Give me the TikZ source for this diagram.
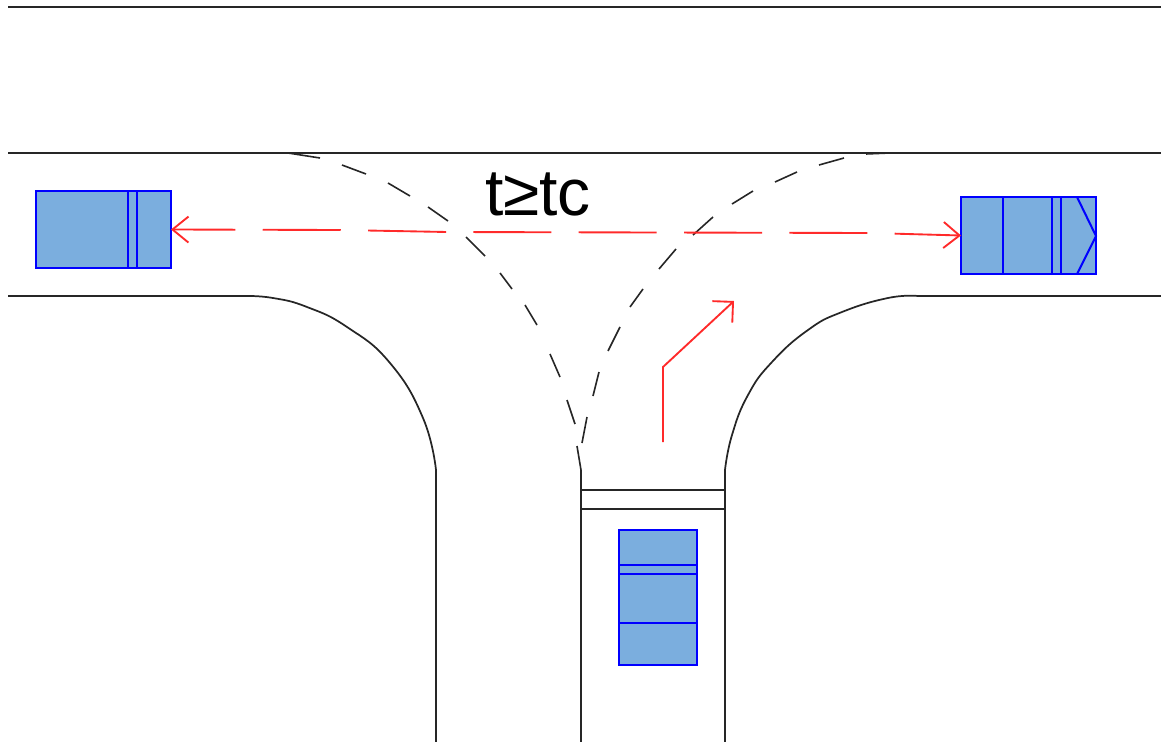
\documentclass[tikz,border=0pt]{standalone}
\usepackage{fontspec}
\setmainfont{Liberation Sans}
\usetikzlibrary{arrows.meta}
\definecolor{carfill}{HTML}{7BAEDE}
\definecolor{redline}{HTML}{FF2A2A}
\tikzset{
  road/.style={draw=black!85,line width=1.3pt,line join=round},
  crossing/.style={draw=black!85,line width=1.2pt},
  car/.style={draw=blue,fill=carfill,line width=1.5pt,inner sep=0pt,outer sep=0pt,rectangle},
  cardetail/.style={draw=blue,line width=1.5pt},
  move/.style={draw=redline,line width=1.4pt},
  barb/.style={{Straight Barb[length=12pt,width=19.5pt,line width=1.4pt]}-{Straight Barb[length=12pt,width=19.5pt,line width=1.4pt]}},
}
\begin{document}
\begin{tikzpicture}[x=0.75pt,y=-0.75pt]
\useasboundingbox (0,0) rectangle (1161,742);
% road edges
\draw[road] (8,7) -- (1161,7);
\draw[road] (8,153) -- (1161,153);
\draw[road] (8,296) -- (245,296) -- plot[smooth,tension=0.8] coordinates {(245,296) (273,298) (307,307) (347,327) (390,363) (423,418) (436,470)} -- (436,742);
\draw[road] (1161,296) -- (918,296) -- plot[smooth,tension=0.8] coordinates {(918,296) (888,298) (842,312) (808,330) (772,362) (748,395) (732,435) (725,470)} -- (725,742);
\draw[road] (581,470) -- (581,742);
\draw[road] (581,490) -- (725,490);
\draw[road] (581,509) -- (725,509);
% turning paths
\draw[crossing]
  (288,153) -- (320,158)  (342,165) -- (366,174)  (388,183) -- (410,196)
  (428,207) -- (448,221)  (466,237) -- (485,256)  (500,273) -- (512,289)
  (525,305) -- (537,325)  (550,354) -- (560,377)  (567,400) -- (575,424)
  (577,446) -- (581,470);
\draw[crossing]
  (890,153) -- (866,154)  (844,158) -- (819,165)  (797,172) -- (775,182)
  (753,191) -- (732,204)  (713,217) -- (693,235)  (676,249) -- (659,269)
  (643,289) -- (630,307)  (620,327) -- (608,351)  (599,372) -- (593,396)
  (587,417) -- (582,443);
% vehicles
\node[car,minimum width=101.25pt,minimum height=57.75pt] (carL) at (103.5,229.5) {};
\draw[cardetail] (128,191) -- (128,268) (137,191) -- (137,268);
\node[car,minimum width=101.25pt,minimum height=57.75pt] (carR) at (1028.5,235.5) {};
\draw[cardetail] (1003,197) -- (1003,274) (1052,197) -- (1052,274) (1061,197) -- (1061,274);
\draw[cardetail] (1077,197) -- (1096,236) -- (1077,274);
\node[car,minimum width=58.5pt,minimum height=101.25pt] (carB) at (658,597.5) {};
\draw[cardetail] (619,565) -- (697,565) (619,574) -- (697,574) (619,623) -- (697,623);
% movement arrows
\coordinate (m1) at (340,230);
\coordinate (m2) at (447,232);
\coordinate (m3) at (871,233);
\draw[move,barb,dash pattern=on 58.5pt off 20.5pt,dash phase=12pt] (carL.east) -- (m1) -- (m2) -- (m3) -- (carR.west);
\coordinate (t0) at (663,442);
\coordinate (t1) at (663,367);
\coordinate (t2) at (734,301);
\draw[move,-{Straight Barb[length=11pt,width=22pt,line width=1.4pt]}] (t0) -- (t1) -- (t2);
% label
\node[font=\fontsize{49.5pt}{50pt}\selectfont,inner sep=0pt,anchor=base] (lbl) at (538,215) {t≥tc};
\end{tikzpicture}
\end{document}
